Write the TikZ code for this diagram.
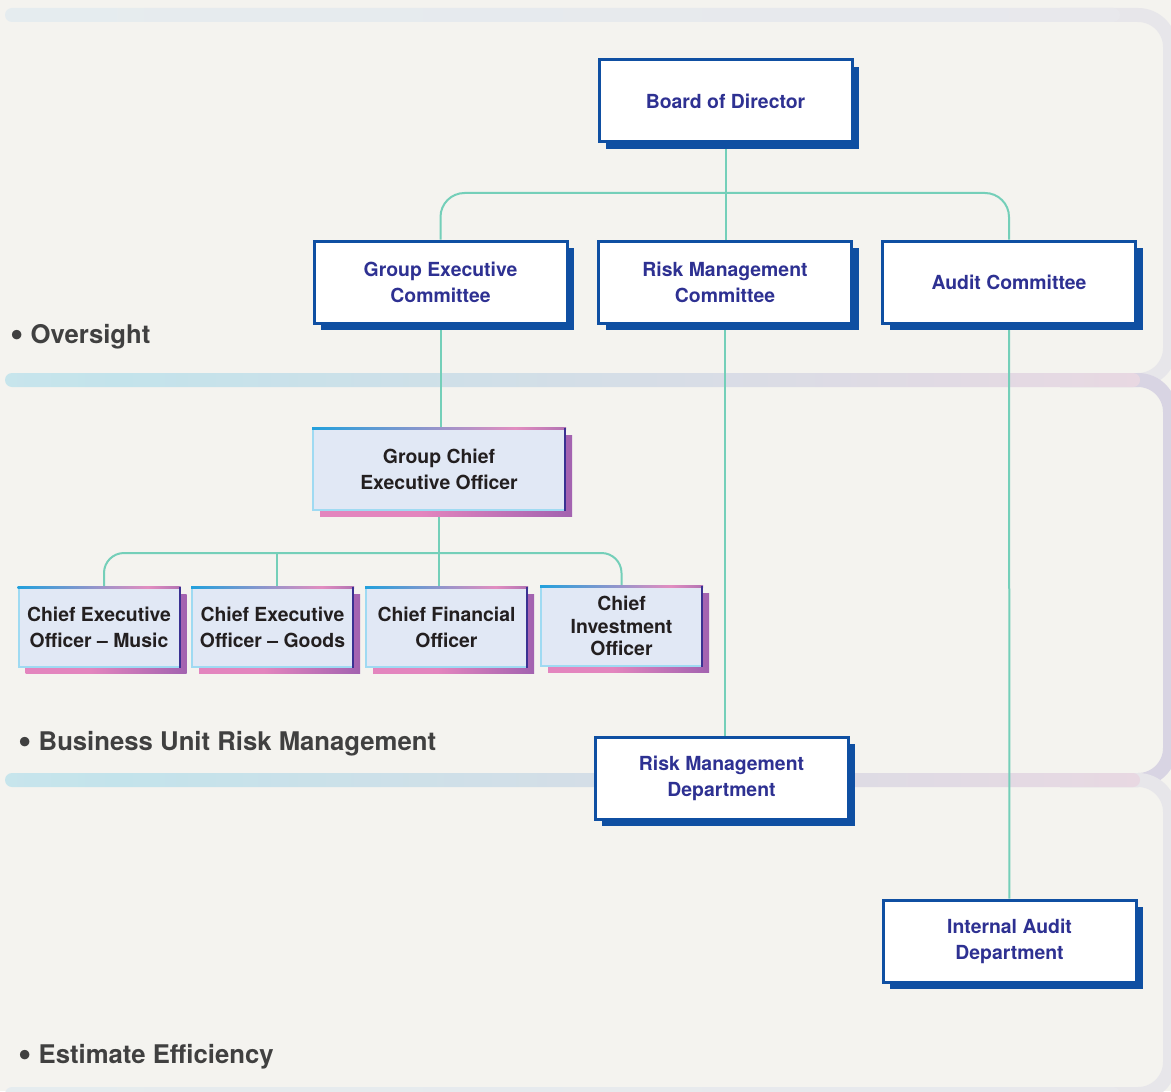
\documentclass[tikz,border=0pt]{standalone}
\usepackage{fontspec}
\setmainfont{TeX Gyre Heros}
\usetikzlibrary{positioning,shadows}

\definecolor{paper}{HTML}{F4F3EF}
\definecolor{linkteal}{HTML}{74CFB9}
\definecolor{boxblue}{HTML}{0F4FA2}
\definecolor{textblue}{HTML}{2E3192}
\definecolor{darktext}{HTML}{231F20}
\definecolor{sectext}{HTML}{404040}
\definecolor{lightfill}{HTML}{E1E8F5}
\definecolor{edgecyan}{HTML}{9FDAF2}
\definecolor{edgeblue}{HTML}{22A0DC}
\definecolor{edgepink}{HTML}{E28DC0}
\definecolor{edgeindigo}{HTML}{3A3192}
\definecolor{shadowpink}{HTML}{E385BE}
\definecolor{shadowpurple}{HTML}{6C45A4}
\definecolor{paleA}{HTML}{E4EEF0}
\definecolor{paleB}{HTML}{E9E6EB}
\definecolor{bandA}{HTML}{DCEDF0}
\definecolor{bandB}{HTML}{C3E3EB}
\definecolor{bandC}{HTML}{E8D8E2}
\definecolor{bandD}{HTML}{D3CFE1}
\definecolor{sideA}{HTML}{E7E6EA}
\definecolor{sideB}{HTML}{D8D4E3}

\pgfdeclarehorizontalshading{bandpale}{100bp}{color(0bp)=(paleA); color(100bp)=(paleB)}
\pgfdeclarehorizontalshading{bandmid}{100bp}{color(0bp)=(bandA); color(30bp)=(bandB); color(75bp)=(bandC); color(100bp)=(bandD)}
\pgfdeclarehorizontalshading{edgetop}{100bp}{color(0bp)=(edgecyan); color(25bp)=(edgeblue); color(65bp)=(edgepink); color(100bp)=(edgeindigo)}
\pgfdeclarehorizontalshading{shadowbar}{100bp}{color(0bp)=(shadowpink); color(45bp)=(shadowpink); color(100bp)=(shadowpurple)}

\pgfdeclarelayer{bands}
\pgfdeclarelayer{links}
\pgfsetlayers{bands,links,main}

\newcommand{\dotmark}{{\fontsize{19pt}{15pt}\selectfont\raisebox{-0.07em}{\textbullet}}\hspace{3.5pt}}

\begin{document}
\begin{tikzpicture}[
		x=0.5pt, y=-0.5pt,
		link/.style = {draw=linkteal, line width=1pt},
		main/.style = {draw=boxblue, line width=1.5pt, fill=white, minimum width=126.5pt, minimum height=41pt, inner sep=2pt, align=center, text=textblue, font=\bfseries\fontsize{9.7pt}{13pt}\selectfont, general shadow={fill=boxblue, shadow xshift=3.5pt, shadow yshift=-3.5pt}},
		subbox/.style = {draw=edgecyan, line width=1pt, fill=lightfill, minimum width=80.5pt, minimum height=39.5pt, inner sep=2pt, align=center, text=darktext, font=\bfseries\fontsize{9.7pt}{13pt}\selectfont, general shadow={shading=shadowbar, shadow xshift=3.5pt, shadow yshift=-3.5pt}},
		seclabel/.style = {anchor=west, inner sep=0pt, text=sectext, font=\bfseries\fontsize{12.85pt}{15pt}\selectfont}
	]
	\useasboundingbox (0,0) rectangle (1171,1091);
	\begin{pgfonlayer}{bands}
		\fill[paper] (0,0) rectangle (1171,1091);
		\draw[sideA, line width=7pt, rounded corners=16pt] (1060,15) -| (1170,380) -- (1060,380);
		\draw[sideB, line width=7pt, rounded corners=16pt] (1060,380) -| (1170,780) -- (1060,780);
		\draw[sideA, line width=7pt, rounded corners=16pt] (1060,780) -| (1170,1094) -- (1060,1094);
		\shade[shading=bandpale, rounded corners=3.5pt] (5,8) rectangle (1120,22);
		\shade[shading=bandmid, rounded corners=3.5pt] (5,373) rectangle (1140,387);
		\shade[shading=bandmid, rounded corners=3.5pt] (5,773) rectangle (1140,787);
		\shade[shading=bandpale, rounded corners=3.5pt] (5,1087) rectangle (1120,1101);
	\end{pgfonlayer}

	\node[main] (board) at (725.5,101) {Board of Director};
	\node[main] (gec) at (440.5,282) {Group Executive\\Committee};
	\node[main] (rmc) at (725,282) {Risk Management\\Committee};
	\node[main] (ac) at (1009,282) {Audit Committee};
	\node[subbox, minimum width=126pt, minimum height=40.5pt] (gceo) at (439,469) {Group Chief\\Executive Officer};
	\node[subbox] (music) at (99,627) {Chief Executive\\Officer -- Music};
	\node[subbox] (goods) at (272.5,627) {Chief Executive\\Officer -- Goods};
	\node[subbox] (cfo) at (446.5,627) {Chief Financial\\Officer};
	\node[subbox, font=\bfseries\fontsize{9.7pt}{11.3pt}\selectfont] (cio) at (621.5,626) {Chief\\Investment\\Officer};
	\node[main] (rmd) at (721.5,778) {Risk Management\\Department};
	\node[main] (iad) at (1009.5,941) {Internal Audit\\Department};

	\node[seclabel] (oversight) at (10,337) {\dotmark Oversight};
	\node[seclabel] (burm) at (18,744) {\dotmark Business Unit Risk Management};
	\node[seclabel] (effic) at (18,1057) {\dotmark Estimate Efficiency};

	\foreach \bx in {gceo,music,goods,cfo,cio} {
		\shade[shading=edgetop] (\bx.north west) rectangle ([yshift=-1pt]\bx.north east);
		\draw[edgeindigo, line width=1pt] ([xshift=-0.5pt]\bx.north east) -- ([xshift=-0.5pt]\bx.south east);
	}

	\coordinate (topsplit) at (727,193);
	\coordinate (rowsplit) at (440,553);
	\begin{pgfonlayer}{links}
		\draw[link] (board.south) -- (board.south |- rmc.north);
		\draw[link, rounded corners=12pt] (gec) |- (topsplit) -| (ac);
		\draw[link] (gec.south) -- (gec.south |- gceo.north);
		\draw[link] (rmc.south) -- (rmc.south |- rmd.north);
		\draw[link] (ac) -- (iad);
		\draw[link] (gceo.south) -- (gceo.south |- cfo.north);
		\draw[link, rounded corners=10pt] ([xshift=2.5pt]music.north) |- (rowsplit) -| (cio.north);
		\draw[link] ([xshift=2.2pt]goods.north) -- ([xshift=2.2pt]goods.north |- rowsplit);
	\end{pgfonlayer}
\end{tikzpicture}
\end{document}
